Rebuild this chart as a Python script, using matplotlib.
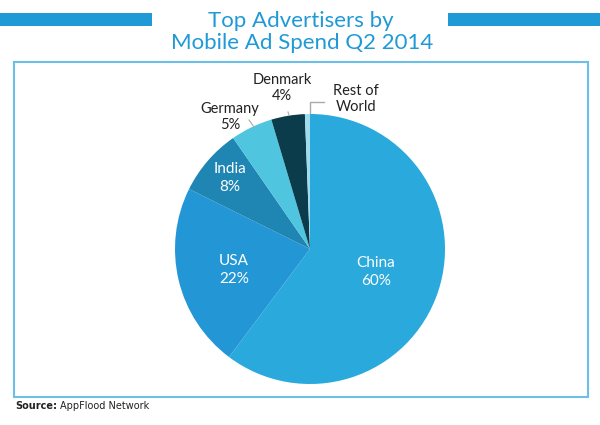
import matplotlib.pyplot as plt
from matplotlib.patches import Rectangle

countries = ['China', 'USA', 'India', 'Germany', 'Denmark', 'Rest of\nWorld']
shares = [60, 22, 8, 5, 4, 0.6]
pct_labels = ['60%', '22%', '8%', '5%', '4%', '']
colors = ['#29a9dc', '#2397d6', '#1f86b4', '#4fc5df', '#0b3c4b', '#9fdcee']

plt.rcParams['font.family'] = ['Lato', 'DejaVu Sans']

fig = plt.figure(figsize=(6, 4.25), dpi=100)
ax = fig.add_axes([0, 0, 1, 1])

blue = '#1f9ad6'

# pie: y axis is flipped below, so start at -90 and go counterclockwise
# in data space to read clockwise from the top on screen
ax.pie(shares, colors=colors, startangle=-90, counterclock=True,
       center=(310, 249), radius=135, frame=True,
       wedgeprops=dict(linewidth=0))
ax.set_xlim(0, 600)
ax.set_ylim(425, 0)
ax.axis('off')

# title with side bars
ax.add_patch(Rectangle((0, 13), 152, 13, color=blue, lw=0))
ax.add_patch(Rectangle((448, 13), 152, 13, color=blue, lw=0))
ax.text(301, 27, 'Top Advertisers by', ha='center', va='baseline',
        fontsize=16, color=blue)
ax.text(302, 49, 'Mobile Ad Spend Q2 2014', ha='center', va='baseline',
        fontsize=16, color=blue)

# frame
ax.add_patch(Rectangle((14, 62), 574, 335, fill=False,
                       ec='#6cc0e8', lw=1.5))

# inside labels
ax.text(376, 272, countries[0] + '\n' + pct_labels[0], ha='center',
        va='center', color='white', fontsize=11, linespacing=1.3)
ax.text(234, 270, countries[1] + '\n' + pct_labels[1], ha='center',
        va='center', color='white', fontsize=11, linespacing=1.3)
ax.text(230, 178, countries[2] + '\n' + pct_labels[2], ha='center',
        va='center', color='white', fontsize=11, linespacing=1.3)

# outside labels
ax.text(230, 117, countries[3] + '\n' + pct_labels[3], ha='center',
        va='center', color='#222222', fontsize=10.5, linespacing=1.2)
ax.plot([249, 254], [120, 127], color='#aaaaaa', lw=0.8)
ax.text(282, 88, countries[4] + '\n' + pct_labels[4], ha='center',
        va='center', color='#222222', fontsize=10.5, linespacing=1.2)
ax.plot([288, 289], [112, 115], color='#aaaaaa', lw=0.8)
ax.text(356, 99, countries[5], ha='center', va='center', color='#222222',
        fontsize=10.5, linespacing=1.2)
ax.plot([324, 310, 310], [102, 102, 113], color='#aaaaaa', lw=1)

# source
src = ax.text(15, 406, 'Source:', ha='left', va='center', fontsize=7,
              fontweight='bold', color='#222222',
              family=['Liberation Sans Narrow', 'DejaVu Sans'])
ax.annotate('AppFlood Network', xy=(1, 0.5), xycoords=src,
            xytext=(2, 0), textcoords='offset points', ha='left',
            va='center', fontsize=7, color='#222222',
            family=['Liberation Sans Narrow', 'DejaVu Sans'])

fig.savefig('out.png', dpi=100)
